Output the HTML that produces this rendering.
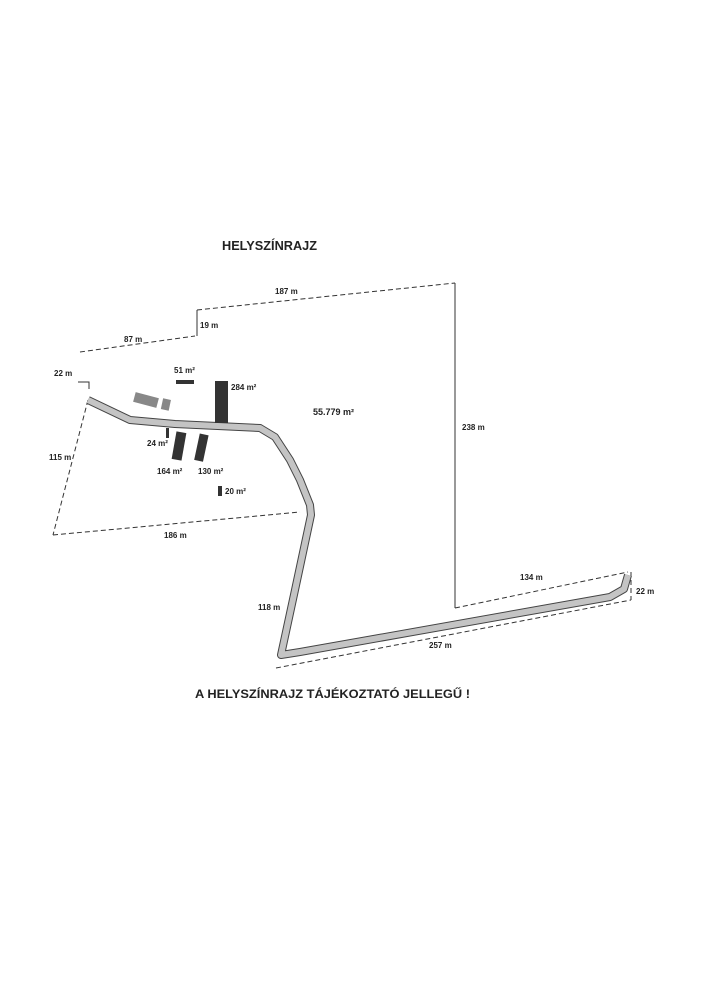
<!DOCTYPE html>
<html><head><meta charset="utf-8"><style>
html,body{margin:0;padding:0;background:#fff;}
svg{display:block;}
text{font-family:"Liberation Sans",sans-serif;font-weight:bold;fill:#222;}
</style></head><body>
<svg width="707" height="1000" viewBox="0 0 707 1000" xmlns="http://www.w3.org/2000/svg">
<rect width="707" height="1000" fill="#fff"/>
<g fill="none" stroke="#333" stroke-width="1" stroke-dasharray="5,3">
<path d="M80,352 L195,336"/>
<path d="M197,310 L455,283"/>
<path d="M455,608 L628,572"/>
<path d="M631,572 L631,600"/>
<path d="M276,668 L631,600"/>
<path d="M88,400 L53,535"/>
<path d="M53,535 L300,512"/>
</g>
<g fill="none" stroke="#333" stroke-width="1">
<path d="M197,336 L197,310"/>
<path d="M455,283 L455,608"/>
<path d="M78,382 L89,382 L89,389"/>
</g>
<path d="M88,400 L130,420 L175,424 L260,428 L275,437 L290,460 L300,480 L310,505 L311,515 L295,590 L281,655 L300,652 L610,597 L624,589 L628,575" fill="none" stroke="#444" stroke-width="8" stroke-linejoin="round"/>
<path d="M88,400 L130,420 L175,424 L260,428 L275,437 L290,460 L300,480 L310,505 L311,515 L295,590 L281,655 L300,652 L610,597 L624,589 L628,575" fill="none" stroke="#c4c4c4" stroke-width="6" stroke-linejoin="round"/>
<g fill="#333">
<rect x="215" y="381" width="13" height="42"/>
<rect x="176" y="380" width="18" height="4"/>
<rect x="166" y="428" width="3" height="10"/>
<rect x="218" y="486" width="4" height="10"/>
<rect x="174" y="432" width="10" height="28" transform="rotate(10 179 446)"/>
<rect x="197" y="434" width="9" height="27" transform="rotate(12 201 447)"/>
</g>
<g fill="#888">
<rect x="134" y="395" width="24" height="10" transform="rotate(15 146 400)"/>
<rect x="162" y="399" width="8" height="11" transform="rotate(12 166 404)"/>
</g>
<text x="222" y="250" font-size="12.5" textLength="95" lengthAdjust="spacingAndGlyphs">HELYSZÍNRAJZ</text>
<text x="195" y="698" font-size="12" textLength="275" lengthAdjust="spacingAndGlyphs">A HELYSZÍNRAJZ TÁJÉKOZTATÓ JELLEGŰ !</text>
<g font-size="8">
<text x="275" y="294">187 m</text>
<text x="200" y="328">19 m</text>
<text x="124" y="342">87 m</text>
<text x="54" y="376">22 m</text>
<text x="174" y="373">51 m²</text>
<text x="231" y="390">284 m²</text>
<text x="313" y="415" font-size="9">55.779 m²</text>
<text x="147" y="446">24 m²</text>
<text x="49" y="460">115 m</text>
<text x="157" y="474">164 m²</text>
<text x="198" y="474">130 m²</text>
<text x="225" y="494">20 m²</text>
<text x="164" y="538">186 m</text>
<text x="462" y="430">238 m</text>
<text x="520" y="580">134 m</text>
<text x="636" y="594">22 m</text>
<text x="258" y="610">118 m</text>
<text x="429" y="648">257 m</text>
</g>
</svg>
</body></html>
